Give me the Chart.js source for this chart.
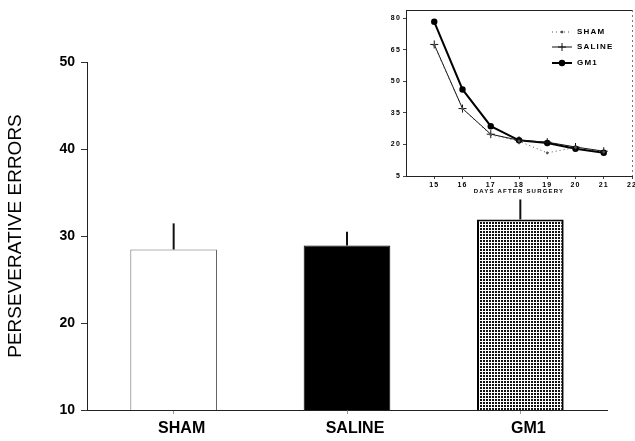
<!DOCTYPE html>
<html>
<head>
<meta charset="utf-8">
<script src="https://cdn.jsdelivr.net/npm/chart.js@4/dist/chart.umd.min.js"></script>
<style>
    html, body { margin: 0; padding: 0; background: #fff; overflow: hidden; }
    #wrap { position: relative; width: 635px; height: 441px; overflow: hidden; }
    #main { position: absolute; left: 0; top: 0; }
    #inset { position: absolute; left: 370px; top: 0; background: #fff; }
</style>
</head>
<body>
<div id="wrap">
    <canvas id="main" width="635" height="441"></canvas>
    <canvas id="inset" width="280" height="199"></canvas>
</div>
<script>
// Main bar chart data
const groups = ['SHAM', 'SALINE', 'GM1'];
const meanErrors = [28.45, 28.9, 31.9];
const semErrors = [3.0, 1.6, 2.3];
const mainTicks = [10, 20, 30, 40, 50];

// Inset line chart data
const days = [15, 16, 17, 18, 19, 20, 21];
const shamDaily = [67.2, 37.0, 24.6, 21.6, 16.0, 18.6, 16.4];
const salineDaily = [67.6, 37.1, 24.9, 22.0, 21.1, 18.8, 16.8];
const gm1Daily = [78.4, 46.2, 28.7, 22.0, 20.7, 18.0, 16.1];
const insetYTicks = [5, 20, 35, 50, 65, 80];
const insetXTicks = [15, 16, 17, 18, 19, 20, 21, 22];

const ink = '#111';

// Dotted fill for the GM1 bar
function dotPattern() {
    const tile = document.createElement('canvas');
    tile.width = 3;
    tile.height = 3;
    const t = tile.getContext('2d');
    t.fillStyle = '#fff';
    t.fillRect(0, 0, 3, 3);
    t.fillStyle = '#111';
    t.fillRect(0, 0, 2, 2);
    return document.getElementById('main').getContext('2d').createPattern(tile, 'repeat');
}

// Error bars (upper half only) drawn through the y scale
const errorBars = {
    id: 'errorBars',
    afterDatasetsDraw(chart) {
        const ctx = chart.ctx;
        const meta = chart.getDatasetMeta(0);
        const y = chart.scales.y;
        ctx.save();
        ctx.strokeStyle = ink;
        ctx.lineWidth = 2;
        meta.data.forEach((bar, i) => {
            ctx.beginPath();
            ctx.moveTo(bar.x, y.getPixelForValue(meanErrors[i]));
            ctx.lineTo(bar.x, y.getPixelForValue(meanErrors[i] + semErrors[i]));
            ctx.stroke();
        });
        ctx.restore();
    }
};

new Chart(document.getElementById('main'), {
    type: 'bar',
    data: {
        labels: groups,
        datasets: [{
            data: meanErrors,
            backgroundColor: ['#fff', '#000', dotPattern()],
            borderColor: ['#666', '#000', '#000'],
            borderWidth: [1, 1, 2],
            categoryPercentage: 1,
            barPercentage: 0.5
        }]
    },
    options: {
        responsive: false,
        animation: false,
        events: [],
        layout: { padding: { top: 62, right: 28, left: 0, bottom: 0 } },
        plugins: { legend: { display: false }, tooltip: { enabled: false } },
        scales: {
            x: {
                afterFit: s => { s.height = 31; },
                grid: { display: true, drawOnChartArea: false, offset: false, tickLength: 4, color: '#999' },
                border: { color: '#222', width: 1 },
                ticks: {
                    color: '#000',
                    font: { family: 'Liberation Sans', size: 16, weight: 'bold' },
                    padding: 5,
                    labelOffset: 8
                }
            },
            y: {
                min: 10,
                max: 50,
                afterFit: s => { s.width = 87; },
                afterBuildTicks: s => { s.ticks = mainTicks.map(v => ({ value: v })); },
                grid: { display: true, drawOnChartArea: false, tickLength: 6, color: '#333' },
                border: { color: '#222', width: 1 },
                ticks: {
                    color: '#000',
                    font: { family: 'Liberation Sans', size: 14, weight: 'bold' },
                    padding: 6
                },
                title: {
                    display: true,
                    text: 'PERSEVERATIVE ERRORS',
                    color: '#000',
                    font: { family: 'Liberation Sans', size: 19 },
                    padding: { top: 4, bottom: 0 }
                }
            }
        }
    },
    plugins: [errorBars]
});

// Inset frame: solid top edge, dotted right edge
const insetFrame = {
    id: 'insetFrame',
    beforeDraw(chart) {
        chart.ctx.letterSpacing = '1.2px';
    },
    afterDraw(chart) {
        const { ctx, chartArea: a } = chart;
        ctx.save();
        ctx.strokeStyle = '#222';
        ctx.lineWidth = 1;
        ctx.beginPath();
        ctx.moveTo(a.left, a.top + 0.5);
        ctx.lineTo(a.right, a.top + 0.5);
        ctx.stroke();
        ctx.strokeStyle = '#777';
        ctx.setLineDash([2, 3]);
        ctx.beginPath();
        ctx.moveTo(a.right + 0.5, a.top);
        ctx.lineTo(a.right + 0.5, a.bottom);
        ctx.stroke();
        ctx.restore();
    }
};

// Legend inside the inset, top right
const insetLegend = {
    id: 'insetLegend',
    afterDraw(chart) {
        const ctx = chart.ctx;
        const rowsY = [32, 47, 63];
        ctx.save();
        ctx.font = 'bold 8px "Liberation Sans"';
        ctx.letterSpacing = '1.2px';
        ctx.textBaseline = 'middle';
        ctx.fillStyle = '#000';
        chart.data.datasets.forEach((ds, i) => {
            const y = rowsY[i];
            ctx.strokeStyle = ds.borderColor;
            ctx.lineWidth = ds.borderWidth;
            ctx.setLineDash(ds.borderDash || []);
            ctx.beginPath();
            ctx.moveTo(182, y);
            ctx.lineTo(202, y);
            ctx.stroke();
            ctx.setLineDash([]);
            Chart.helpers.drawPoint(ctx, {
                pointStyle: ds.pointStyle,
                radius: ds.pointRadius,
                borderWidth: 1,
                rotation: 0
            }, 192, y);
            ctx.fillStyle = ds.pointBackgroundColor;
            ctx.fill();
            ctx.fillStyle = '#000';
            ctx.fillText(ds.label, 207, y);
        });
        ctx.restore();
    }
};

const toPoints = vals => days.map((d, i) => ({ x: d, y: vals[i] }));

new Chart(document.getElementById('inset'), {
    type: 'line',
    data: {
        datasets: [
            {
                label: 'SHAM',
                data: toPoints(shamDaily),
                borderColor: '#555',
                borderWidth: 1,
                borderDash: [1, 3],
                pointStyle: 'circle',
                pointRadius: 1,
                pointBackgroundColor: '#555',
                pointBorderColor: '#555'
            },
            {
                label: 'SALINE',
                data: toPoints(salineDaily),
                borderColor: ink,
                borderWidth: 1,
                pointStyle: 'cross',
                pointRadius: 4,
                pointBorderWidth: 1,
                pointBackgroundColor: ink,
                pointBorderColor: ink
            },
            {
                label: 'GM1',
                data: toPoints(gm1Daily),
                borderColor: '#000',
                borderWidth: 2,
                pointStyle: 'circle',
                pointRadius: 2.2,
                pointBackgroundColor: '#000',
                pointBorderColor: '#000'
            }
        ]
    },
    options: {
        responsive: false,
        animation: false,
        events: [],
        layout: { padding: { top: 10, right: 18, left: 0, bottom: 0 } },
        plugins: { legend: { display: false }, tooltip: { enabled: false } },
        scales: {
            x: {
                type: 'linear',
                min: 14,
                max: 22,
                afterFit: s => { s.height = 23; },
                afterBuildTicks: s => { s.ticks = insetXTicks.map(v => ({ value: v })); },
                grid: { display: true, drawOnChartArea: false, tickLength: 3, color: '#444' },
                border: { color: '#222', width: 1 },
                ticks: {
                    color: '#000',
                    font: { family: 'Liberation Sans', size: 7, weight: 'bold' },
                    padding: 2,
                    maxRotation: 0
                },
                title: {
                    display: true,
                    text: 'DAYS AFTER SURGERY',
                    color: '#000',
                    font: { family: 'Liberation Sans', size: 6, weight: 'bold' },
                    padding: { top: 0, bottom: 4 }
                }
            },
            y: {
                min: 5,
                max: 84,
                afterFit: s => { s.width = 36; },
                afterBuildTicks: s => { s.ticks = insetYTicks.map(v => ({ value: v })); },
                grid: { display: true, drawOnChartArea: false, tickLength: 3, color: '#444' },
                border: { color: '#222', width: 1 },
                ticks: {
                    color: '#000',
                    font: { family: 'Liberation Sans', size: 7, weight: 'bold' },
                    padding: 2
                }
            }
        }
    },
    plugins: [insetFrame, insetLegend]
});
</script>
</body>
</html>
